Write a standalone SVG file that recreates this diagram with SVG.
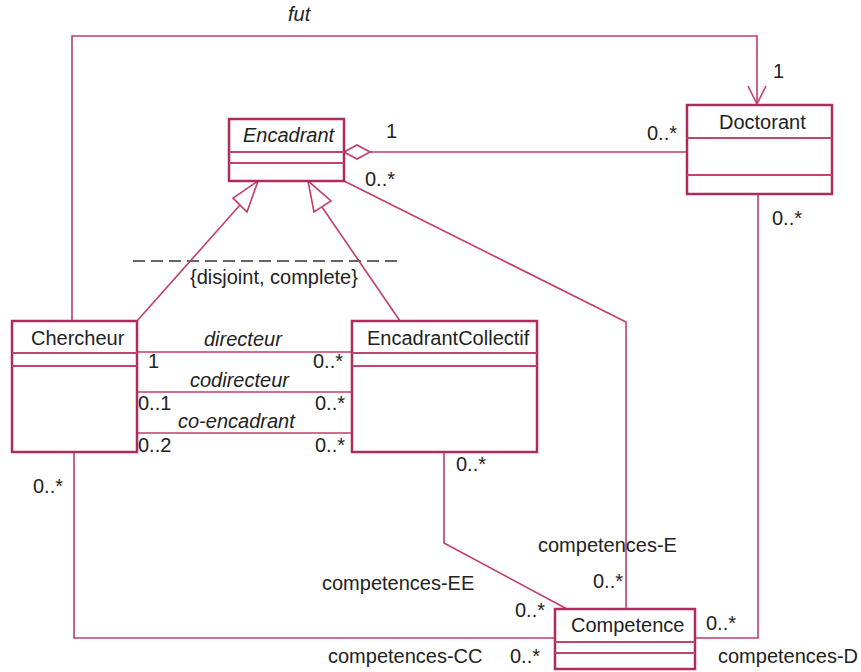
<svg xmlns="http://www.w3.org/2000/svg" width="861" height="672" viewBox="0 0 861 672">
<style>
text{font-family:"Liberation Sans",Arial,sans-serif;font-size:20px;fill:#222}
.i{font-style:italic}
.box{fill:#fff;stroke:#b02a5c;stroke-width:2.5}
.div{stroke:#c04470;stroke-width:2;fill:none}
.ln{stroke:#c03e6a;stroke-width:1.6;fill:none}
</style>
<rect width="861" height="672" fill="#fff"/>
<g id="connectors">
<polyline class="ln" points="72,321 72,36 757,36 757,104"/>
<polyline class="ln" points="748,86 757,104 766,86"/>
<line class="ln" x1="370" y1="152" x2="687" y2="152"/>
<polygon points="344,152 357,145 370,152 357,159" fill="#fff" stroke="#c03e6a" stroke-width="1.6"/>
<polyline class="ln" points="344,181 626,322 626,609"/>
<line class="ln" x1="240" y1="205" x2="137" y2="321"/>
<polygon points="258,181 233,198 247,212" fill="#fff" stroke="#c03e6a" stroke-width="1.6"/>
<line class="ln" x1="322" y1="207" x2="400" y2="321"/>
<polygon points="308,181 314,212 331,201" fill="#fff" stroke="#c03e6a" stroke-width="1.6"/>
<line x1="133" y1="261" x2="397" y2="261" stroke="#666" stroke-width="2" stroke-dasharray="12,6"/>
<line class="ln" x1="137" y1="352" x2="352" y2="352"/>
<line class="ln" x1="137" y1="392" x2="352" y2="392"/>
<line class="ln" x1="137" y1="433" x2="352" y2="433"/>
<polyline class="ln" points="74,452 74,638 555,638"/>
<polyline class="ln" points="758,194 758,638 695,638"/>
<polyline class="ln" points="444,452 444,543 567,609"/>
</g>
<g id="Encadrant">
<rect class="box" x="229" y="119" width="115" height="62"/>
<line class="div" x1="229" y1="152" x2="344" y2="152"/>
<line class="div" x1="229" y1="163" x2="344" y2="163"/>
<text class="i" x="243" y="142">Encadrant</text>
</g>
<g id="Doctorant">
<rect class="box" x="687" y="105" width="145" height="89"/>
<line class="div" x1="687" y1="138" x2="832" y2="138"/>
<line class="div" x1="687" y1="175" x2="832" y2="175"/>
<text x="719" y="129">Doctorant</text>
</g>
<g id="Chercheur">
<rect class="box" x="12" y="321" width="125" height="131"/>
<line class="div" x1="12" y1="353" x2="137" y2="353"/>
<line class="div" x1="12" y1="366" x2="137" y2="366"/>
<text x="31" y="345">Chercheur</text>
</g>
<g id="EncadrantCollectif">
<rect class="box" x="352" y="321" width="185" height="131"/>
<line class="div" x1="352" y1="353" x2="537" y2="353"/>
<line class="div" x1="352" y1="366" x2="537" y2="366"/>
<text x="367" y="345">EncadrantCollectif</text>
</g>
<g id="Competence">
<rect class="box" x="555" y="609" width="140" height="60"/>
<line class="div" x1="555" y1="642" x2="695" y2="642"/>
<line class="div" x1="555" y1="653" x2="695" y2="653"/>
<text x="571" y="632">Competence</text>
</g>
<g id="labels">
<text class="i" x="288" y="21">fut</text>
<text x="773" y="78">1</text>
<text x="386" y="138">1</text>
<text x="647" y="140">0..*</text>
<text x="365" y="186">0..*</text>
<text x="772" y="225">0..*</text>
<text x="190" y="284" fill="#333">{disjoint, complete}</text>
<text class="i" x="204" y="346">directeur</text>
<text x="148" y="368">1</text>
<text x="313" y="368">0..*</text>
<text class="i" x="190" y="387">codirecteur</text>
<text x="138" y="410">0..1</text>
<text x="315" y="410">0..*</text>
<text class="i" x="178" y="428">co-encadrant</text>
<text x="138" y="452">0..2</text>
<text x="315" y="452">0..*</text>
<text x="33" y="493">0..*</text>
<text x="456" y="471">0..*</text>
<text x="538" y="552">competences-E</text>
<text x="593" y="588">0..*</text>
<text x="322" y="590">competences-EE</text>
<text x="515" y="617">0..*</text>
<text x="706" y="630">0..*</text>
<text x="328" y="663">competences-CC</text>
<text x="510" y="663">0..*</text>
<text x="718" y="663">competences-D</text>
</g>
</svg>
